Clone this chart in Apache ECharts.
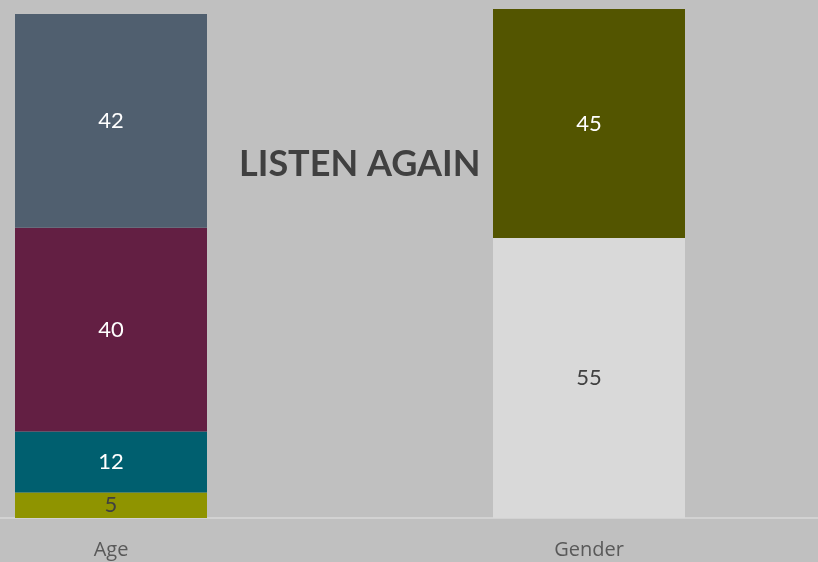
<!DOCTYPE html>
<html>
<head>
<meta charset="utf-8">
<script src="https://cdn.jsdelivr.net/npm/echarts@6/dist/echarts.min.js"></script>
<style>
  html, body { margin: 0; padding: 0; background: #c0c0c0; }
  #chart { width: 818px; height: 562px; }
</style>
</head>
<body>
<div id="chart"></div>
<script>
// Category axis
var categories = ['Age', 'Gender'];

// Age breakdown, bottom to top
var ageValues = [5, 12, 40, 42];
var ageColors = ['#8f9400', '#005f6f', '#631f43', '#505f6f'];
var ageLabelColors = ['#404040', '#ffffff', '#ffffff', '#ffffff'];

// Gender breakdown, bottom to top
var genderValues = [55, 45];
var genderColors = ['#d9d9d9', '#535500'];
var genderLabelColors = ['#404040', '#ffffff'];

var titleText = 'LISTEN AGAIN';

function segment(catIndex, value, color, labelColor) {
  var data = categories.map(function (_, i) { return i === catIndex ? value : '-'; });
  return {
    type: 'bar',
    stack: 'total',
    barWidth: 192,
    data: data,
    itemStyle: { color: color },
    label: {
      show: true,
      position: 'inside',
      color: labelColor,
      fontFamily: 'Lato',
      fontSize: 22
    },
    emphasis: { disabled: true }
  };
}

var series = [];
ageValues.forEach(function (v, i) { series.push(segment(0, v, ageColors[i], ageLabelColors[i])); });
genderValues.forEach(function (v, i) { series.push(segment(1, v, genderColors[i], genderLabelColors[i])); });

var chart = echarts.init(document.getElementById('chart'));
chart.setOption({
  backgroundColor: '#c0c0c0',
  animation: false,
  grid: [
    // plotting grid: categories sit on the ends of the axis
    { left: 111, right: 229, top: 9, bottom: 44 },
    // full-width baseline
    { left: 0, right: 0, top: 9, bottom: 44 }
  ],
  xAxis: [{
    type: 'category',
    gridIndex: 0,
    data: categories,
    boundaryGap: false,
    axisLine: { show: false },
    axisTick: { show: false },
    axisLabel: { color: '#595959', fontFamily: 'Open Sans', fontSize: 20, margin: 22 }
  }, {
    type: 'category',
    gridIndex: 1,
    data: categories,
    axisLine: { lineStyle: { color: '#d9d9d9', width: 1.5 } },
    axisTick: { show: false },
    axisLabel: { show: false }
  }],
  yAxis: [{
    type: 'value',
    gridIndex: 0,
    min: 0,
    max: 100,
    show: false,
    splitLine: { show: false }
  }, {
    type: 'value',
    gridIndex: 1,
    min: 0,
    max: 100,
    show: false,
    splitLine: { show: false }
  }],
  graphic: [{
    type: 'text',
    left: 239,
    top: 146,
    z: 100,
    style: {
      text: titleText,
      fill: '#404040',
      font: 'bold 36px Lato'
    }
  }],
  series: series
});
</script>
</body>
</html>
